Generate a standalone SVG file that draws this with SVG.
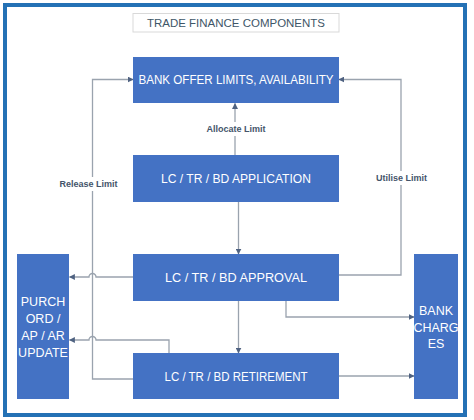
<svg xmlns="http://www.w3.org/2000/svg" width="474" height="420" viewBox="0 0 474 420">
<style>
.box{fill:#4472C4;}
.bt{font-family:"Liberation Sans",Arial,sans-serif;font-size:12.5px;fill:#ffffff;text-anchor:middle;dominant-baseline:central;}
.cn{fill:none;stroke:#9AA3AE;stroke-width:1.3;marker-end:url(#ah);}
.lb{font-family:"Liberation Sans",Arial,sans-serif;font-size:9px;font-weight:bold;fill:#44546A;text-anchor:middle;dominant-baseline:central;}
</style>
<defs>
<marker id="ah" viewBox="0 0 10 10" refX="9" refY="5" markerWidth="6" markerHeight="6" markerUnits="userSpaceOnUse" orient="auto">
<path d="M0,0 L10,5 L0,10 z" fill="#4F6281"/>
</marker>
</defs>
<rect x="0" y="0" width="474" height="420" fill="#ffffff"/>
<rect x="5" y="5" width="460" height="410" fill="none" stroke="#2471B5" stroke-width="4"/>
<g id="title">
<rect x="133" y="13.5" width="206" height="18.5" fill="#ffffff" stroke="#D9D9D9" stroke-width="1"/>
<text x="236" y="23" font-family="Liberation Sans,Arial,sans-serif" font-size="11.5" fill="#3E5668" text-anchor="middle" dominant-baseline="central" textLength="178" lengthAdjust="spacingAndGlyphs">TRADE FINANCE COMPONENTS</text>
</g>
<g id="connectors">
<line class="cn" x1="235" y1="155" x2="235" y2="103.5"/>
<line class="cn" x1="238.5" y1="202" x2="238.5" y2="254"/>
<line class="cn" x1="238.5" y1="301" x2="238.5" y2="353"/>
<path class="cn" d="M133,379 H92.5 V79.5 H133"/>
<path class="cn" d="M339,275 H401 V79.5 H339"/>
<path class="cn" d="M286,301 V317 H414"/>
<line class="cn" x1="339" y1="376" x2="414" y2="376"/>
<path class="cn" d="M133,277 H96 A3.5,3.5 0 0 0 89,277 H69.5"/>
<path class="cn" d="M169,353 V340 H96 A3.5,3.5 0 0 0 89,340 H69.5"/>
<rect x="205" y="122" width="62" height="14" fill="#ffffff"/>
<text class="lb" x="236" y="129">Allocate Limit</text>
<rect x="58" y="177" width="61" height="14" fill="#ffffff"/>
<text class="lb" x="88.5" y="184">Release Limit</text>
<rect x="374" y="171" width="55" height="14" fill="#ffffff"/>
<text class="lb" x="401.5" y="178">Utilise Limit</text>
</g>
<g id="bank-offer">
<rect class="box" x="133" y="57" width="206" height="46"/>
<text class="bt" x="236" y="80" textLength="195" lengthAdjust="spacingAndGlyphs">BANK OFFER LIMITS, AVAILABILITY</text>
</g>
<g id="application">
<rect class="box" x="133" y="155" width="206" height="47"/>
<text class="bt" x="236" y="178.5" textLength="150" lengthAdjust="spacingAndGlyphs">LC / TR / BD APPLICATION</text>
</g>
<g id="approval">
<rect class="box" x="133" y="254" width="206" height="47"/>
<text class="bt" x="236" y="278" textLength="142" lengthAdjust="spacingAndGlyphs">LC / TR / BD APPROVAL</text>
</g>
<g id="retirement">
<rect class="box" x="133" y="353" width="206" height="46"/>
<text class="bt" x="236" y="376.5" textLength="143" lengthAdjust="spacingAndGlyphs">LC / TR / BD RETIREMENT</text>
</g>
<g id="purch">
<rect class="box" x="17" y="254" width="52" height="145"/>
<text class="bt" x="43" y="302">PURCH</text>
<text class="bt" x="43" y="319">ORD /</text>
<text class="bt" x="43" y="336">AP / AR</text>
<text class="bt" x="43" y="353">UPDATE</text>
</g>
<g id="bank-charges">
<rect class="box" x="414" y="254" width="44" height="145"/>
<text class="bt" x="436" y="311">BANK</text>
<text class="bt" x="436" y="327.5">CHARG</text>
<text class="bt" x="436" y="344">ES</text>
</g>
</svg>
